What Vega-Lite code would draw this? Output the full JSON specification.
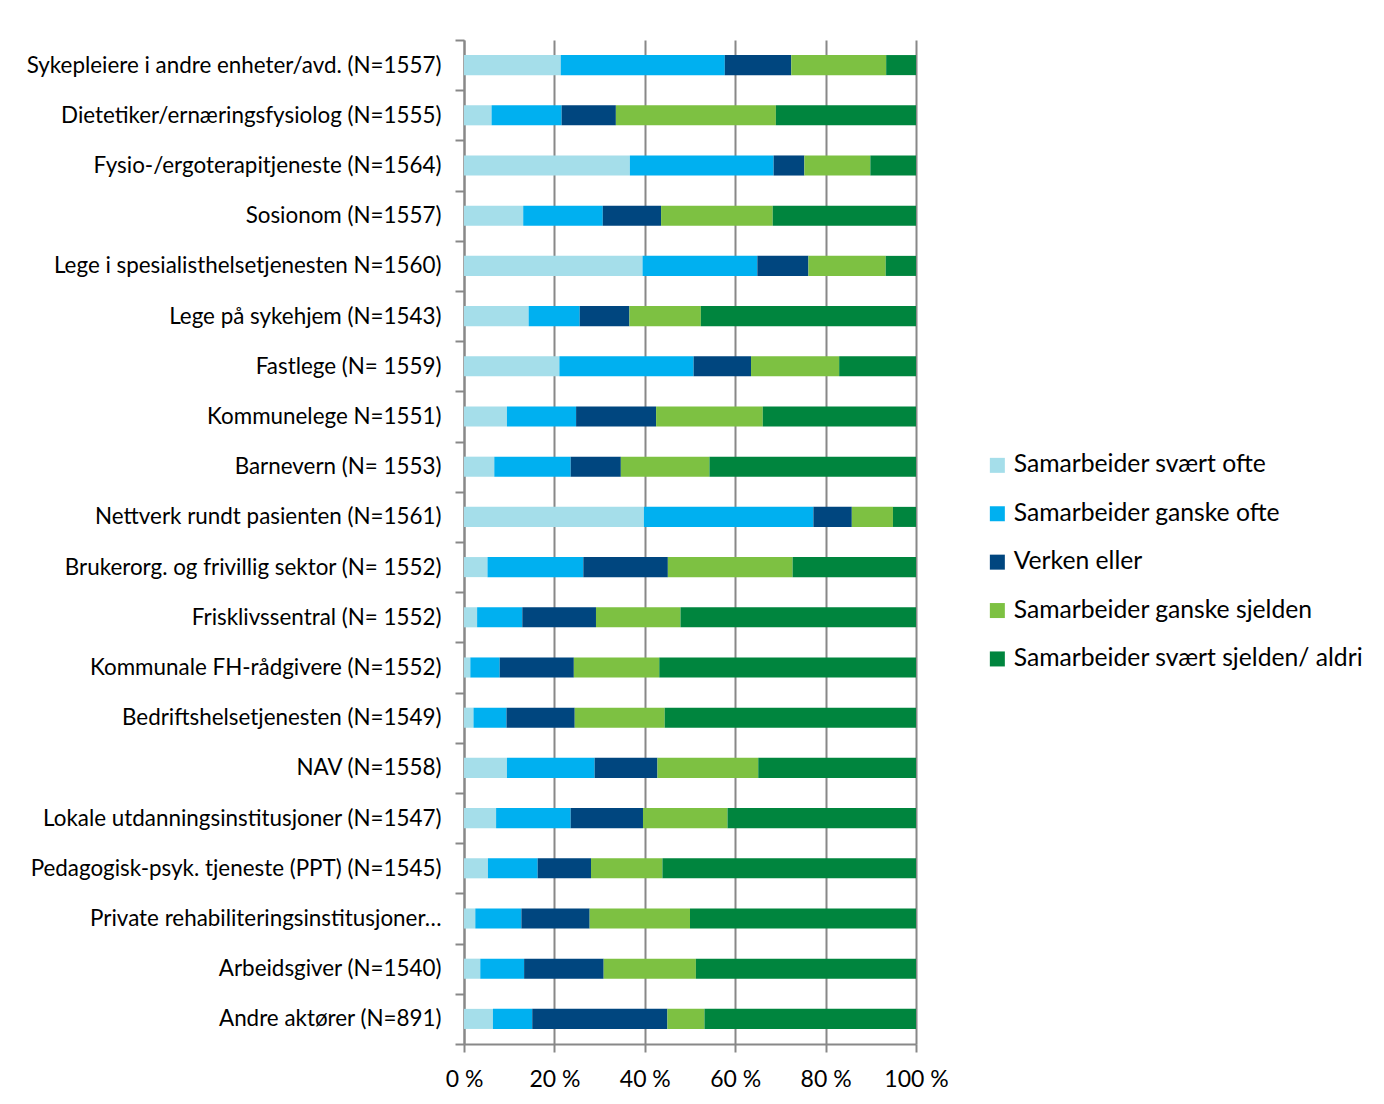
{
  "$schema": "https://vega.github.io/schema/vega-lite/v6.json",
  "width": 452,
  "height": 1004,
  "autosize": {"type": "none"},
  "padding": {"left": 464, "top": 40, "right": 468, "bottom": 60},
  "background": "white",
  "config": {
    "view": {"stroke": null},
    "font": "Lato",
    "axis": {"labelColor": "#000000", "domainColor": "#888888", "tickColor": "#888888", "domainWidth": 2, "tickWidth": 2}
  },
  "data": {
    "values": [
      {"c": "Sykepleiere i andre enheter/avd. (N=1557)", "r": "Samarbeider svært ofte", "k": 1, "p": 21.4},
      {"c": "Sykepleiere i andre enheter/avd. (N=1557)", "r": "Samarbeider ganske ofte", "k": 2, "p": 36.3},
      {"c": "Sykepleiere i andre enheter/avd. (N=1557)", "r": "Verken eller", "k": 3, "p": 14.7},
      {"c": "Sykepleiere i andre enheter/avd. (N=1557)", "r": "Samarbeider ganske sjelden", "k": 4, "p": 21.0},
      {"c": "Sykepleiere i andre enheter/avd. (N=1557)", "r": "Samarbeider svært sjelden/ aldri", "k": 5, "p": 6.6},
      {"c": "Dietetiker/ernæringsfysiolog (N=1555)", "r": "Samarbeider svært ofte", "k": 1, "p": 6.1},
      {"c": "Dietetiker/ernæringsfysiolog (N=1555)", "r": "Samarbeider ganske ofte", "k": 2, "p": 15.5},
      {"c": "Dietetiker/ernæringsfysiolog (N=1555)", "r": "Verken eller", "k": 3, "p": 12.0},
      {"c": "Dietetiker/ernæringsfysiolog (N=1555)", "r": "Samarbeider ganske sjelden", "k": 4, "p": 35.4},
      {"c": "Dietetiker/ernæringsfysiolog (N=1555)", "r": "Samarbeider svært sjelden/ aldri", "k": 5, "p": 31.0},
      {"c": "Fysio-/ergoterapitjeneste (N=1564)", "r": "Samarbeider svært ofte", "k": 1, "p": 36.7},
      {"c": "Fysio-/ergoterapitjeneste (N=1564)", "r": "Samarbeider ganske ofte", "k": 2, "p": 31.8},
      {"c": "Fysio-/ergoterapitjeneste (N=1564)", "r": "Verken eller", "k": 3, "p": 6.8},
      {"c": "Fysio-/ergoterapitjeneste (N=1564)", "r": "Samarbeider ganske sjelden", "k": 4, "p": 14.6},
      {"c": "Fysio-/ergoterapitjeneste (N=1564)", "r": "Samarbeider svært sjelden/ aldri", "k": 5, "p": 10.1},
      {"c": "Sosionom (N=1557)", "r": "Samarbeider svært ofte", "k": 1, "p": 13.1},
      {"c": "Sosionom (N=1557)", "r": "Samarbeider ganske ofte", "k": 2, "p": 17.6},
      {"c": "Sosionom (N=1557)", "r": "Verken eller", "k": 3, "p": 12.9},
      {"c": "Sosionom (N=1557)", "r": "Samarbeider ganske sjelden", "k": 4, "p": 24.7},
      {"c": "Sosionom (N=1557)", "r": "Samarbeider svært sjelden/ aldri", "k": 5, "p": 31.7},
      {"c": "Lege i spesialisthelsetjenesten N=1560)", "r": "Samarbeider svært ofte", "k": 1, "p": 39.5},
      {"c": "Lege i spesialisthelsetjenesten N=1560)", "r": "Samarbeider ganske ofte", "k": 2, "p": 25.4},
      {"c": "Lege i spesialisthelsetjenesten N=1560)", "r": "Verken eller", "k": 3, "p": 11.3},
      {"c": "Lege i spesialisthelsetjenesten N=1560)", "r": "Samarbeider ganske sjelden", "k": 4, "p": 17.1},
      {"c": "Lege i spesialisthelsetjenesten N=1560)", "r": "Samarbeider svært sjelden/ aldri", "k": 5, "p": 6.7},
      {"c": "Lege på sykehjem (N=1543)", "r": "Samarbeider svært ofte", "k": 1, "p": 14.3},
      {"c": "Lege på sykehjem (N=1543)", "r": "Samarbeider ganske ofte", "k": 2, "p": 11.3},
      {"c": "Lege på sykehjem (N=1543)", "r": "Verken eller", "k": 3, "p": 11.0},
      {"c": "Lege på sykehjem (N=1543)", "r": "Samarbeider ganske sjelden", "k": 4, "p": 15.8},
      {"c": "Lege på sykehjem (N=1543)", "r": "Samarbeider svært sjelden/ aldri", "k": 5, "p": 47.6},
      {"c": "Fastlege (N= 1559)", "r": "Samarbeider svært ofte", "k": 1, "p": 21.1},
      {"c": "Fastlege (N= 1559)", "r": "Samarbeider ganske ofte", "k": 2, "p": 29.7},
      {"c": "Fastlege (N= 1559)", "r": "Verken eller", "k": 3, "p": 12.7},
      {"c": "Fastlege (N= 1559)", "r": "Samarbeider ganske sjelden", "k": 4, "p": 19.5},
      {"c": "Fastlege (N= 1559)", "r": "Samarbeider svært sjelden/ aldri", "k": 5, "p": 17.0},
      {"c": "Kommunelege N=1551)", "r": "Samarbeider svært ofte", "k": 1, "p": 9.5},
      {"c": "Kommunelege N=1551)", "r": "Samarbeider ganske ofte", "k": 2, "p": 15.3},
      {"c": "Kommunelege N=1551)", "r": "Verken eller", "k": 3, "p": 17.7},
      {"c": "Kommunelege N=1551)", "r": "Samarbeider ganske sjelden", "k": 4, "p": 23.6},
      {"c": "Kommunelege N=1551)", "r": "Samarbeider svært sjelden/ aldri", "k": 5, "p": 33.9},
      {"c": "Barnevern (N= 1553)", "r": "Samarbeider svært ofte", "k": 1, "p": 6.7},
      {"c": "Barnevern (N= 1553)", "r": "Samarbeider ganske ofte", "k": 2, "p": 16.9},
      {"c": "Barnevern (N= 1553)", "r": "Verken eller", "k": 3, "p": 11.1},
      {"c": "Barnevern (N= 1553)", "r": "Samarbeider ganske sjelden", "k": 4, "p": 19.6},
      {"c": "Barnevern (N= 1553)", "r": "Samarbeider svært sjelden/ aldri", "k": 5, "p": 45.7},
      {"c": "Nettverk rundt pasienten (N=1561)", "r": "Samarbeider svært ofte", "k": 1, "p": 39.8},
      {"c": "Nettverk rundt pasienten (N=1561)", "r": "Samarbeider ganske ofte", "k": 2, "p": 37.5},
      {"c": "Nettverk rundt pasienten (N=1561)", "r": "Verken eller", "k": 3, "p": 8.5},
      {"c": "Nettverk rundt pasienten (N=1561)", "r": "Samarbeider ganske sjelden", "k": 4, "p": 9.1},
      {"c": "Nettverk rundt pasienten (N=1561)", "r": "Samarbeider svært sjelden/ aldri", "k": 5, "p": 5.1},
      {"c": "Brukerorg. og frivillig sektor (N= 1552)", "r": "Samarbeider svært ofte", "k": 1, "p": 5.2},
      {"c": "Brukerorg. og frivillig sektor (N= 1552)", "r": "Samarbeider ganske ofte", "k": 2, "p": 21.2},
      {"c": "Brukerorg. og frivillig sektor (N= 1552)", "r": "Verken eller", "k": 3, "p": 18.7},
      {"c": "Brukerorg. og frivillig sektor (N= 1552)", "r": "Samarbeider ganske sjelden", "k": 4, "p": 27.6},
      {"c": "Brukerorg. og frivillig sektor (N= 1552)", "r": "Samarbeider svært sjelden/ aldri", "k": 5, "p": 27.3},
      {"c": "Frisklivssentral (N= 1552)", "r": "Samarbeider svært ofte", "k": 1, "p": 2.9},
      {"c": "Frisklivssentral (N= 1552)", "r": "Samarbeider ganske ofte", "k": 2, "p": 10.0},
      {"c": "Frisklivssentral (N= 1552)", "r": "Verken eller", "k": 3, "p": 16.3},
      {"c": "Frisklivssentral (N= 1552)", "r": "Samarbeider ganske sjelden", "k": 4, "p": 18.7},
      {"c": "Frisklivssentral (N= 1552)", "r": "Samarbeider svært sjelden/ aldri", "k": 5, "p": 52.1},
      {"c": "Kommunale FH-rådgivere (N=1552)", "r": "Samarbeider svært ofte", "k": 1, "p": 1.4},
      {"c": "Kommunale FH-rådgivere (N=1552)", "r": "Samarbeider ganske ofte", "k": 2, "p": 6.5},
      {"c": "Kommunale FH-rådgivere (N=1552)", "r": "Verken eller", "k": 3, "p": 16.4},
      {"c": "Kommunale FH-rådgivere (N=1552)", "r": "Samarbeider ganske sjelden", "k": 4, "p": 18.9},
      {"c": "Kommunale FH-rådgivere (N=1552)", "r": "Samarbeider svært sjelden/ aldri", "k": 5, "p": 56.8},
      {"c": "Bedriftshelsetjenesten (N=1549)", "r": "Samarbeider svært ofte", "k": 1, "p": 2.1},
      {"c": "Bedriftshelsetjenesten (N=1549)", "r": "Samarbeider ganske ofte", "k": 2, "p": 7.3},
      {"c": "Bedriftshelsetjenesten (N=1549)", "r": "Verken eller", "k": 3, "p": 15.1},
      {"c": "Bedriftshelsetjenesten (N=1549)", "r": "Samarbeider ganske sjelden", "k": 4, "p": 19.9},
      {"c": "Bedriftshelsetjenesten (N=1549)", "r": "Samarbeider svært sjelden/ aldri", "k": 5, "p": 55.6},
      {"c": "NAV (N=1558)", "r": "Samarbeider svært ofte", "k": 1, "p": 9.5},
      {"c": "NAV (N=1558)", "r": "Samarbeider ganske ofte", "k": 2, "p": 19.4},
      {"c": "NAV (N=1558)", "r": "Verken eller", "k": 3, "p": 13.9},
      {"c": "NAV (N=1558)", "r": "Samarbeider ganske sjelden", "k": 4, "p": 22.3},
      {"c": "NAV (N=1558)", "r": "Samarbeider svært sjelden/ aldri", "k": 5, "p": 34.9},
      {"c": "Lokale utdanningsinstitusjoner (N=1547)", "r": "Samarbeider svært ofte", "k": 1, "p": 7.1},
      {"c": "Lokale utdanningsinstitusjoner (N=1547)", "r": "Samarbeider ganske ofte", "k": 2, "p": 16.5},
      {"c": "Lokale utdanningsinstitusjoner (N=1547)", "r": "Verken eller", "k": 3, "p": 16.0},
      {"c": "Lokale utdanningsinstitusjoner (N=1547)", "r": "Samarbeider ganske sjelden", "k": 4, "p": 18.7},
      {"c": "Lokale utdanningsinstitusjoner (N=1547)", "r": "Samarbeider svært sjelden/ aldri", "k": 5, "p": 41.7},
      {"c": "Pedagogisk-psyk. tjeneste (PPT) (N=1545)", "r": "Samarbeider svært ofte", "k": 1, "p": 5.3},
      {"c": "Pedagogisk-psyk. tjeneste (PPT) (N=1545)", "r": "Samarbeider ganske ofte", "k": 2, "p": 11.0},
      {"c": "Pedagogisk-psyk. tjeneste (PPT) (N=1545)", "r": "Verken eller", "k": 3, "p": 11.8},
      {"c": "Pedagogisk-psyk. tjeneste (PPT) (N=1545)", "r": "Samarbeider ganske sjelden", "k": 4, "p": 15.8},
      {"c": "Pedagogisk-psyk. tjeneste (PPT) (N=1545)", "r": "Samarbeider svært sjelden/ aldri", "k": 5, "p": 56.1},
      {"c": "Private rehabiliteringsinstitusjoner…", "r": "Samarbeider svært ofte", "k": 1, "p": 2.5},
      {"c": "Private rehabiliteringsinstitusjoner…", "r": "Samarbeider ganske ofte", "k": 2, "p": 10.2},
      {"c": "Private rehabiliteringsinstitusjoner…", "r": "Verken eller", "k": 3, "p": 15.1},
      {"c": "Private rehabiliteringsinstitusjoner…", "r": "Samarbeider ganske sjelden", "k": 4, "p": 22.2},
      {"c": "Private rehabiliteringsinstitusjoner…", "r": "Samarbeider svært sjelden/ aldri", "k": 5, "p": 50.0},
      {"c": "Arbeidsgiver (N=1540)", "r": "Samarbeider svært ofte", "k": 1, "p": 3.6},
      {"c": "Arbeidsgiver (N=1540)", "r": "Samarbeider ganske ofte", "k": 2, "p": 9.7},
      {"c": "Arbeidsgiver (N=1540)", "r": "Verken eller", "k": 3, "p": 17.6},
      {"c": "Arbeidsgiver (N=1540)", "r": "Samarbeider ganske sjelden", "k": 4, "p": 20.4},
      {"c": "Arbeidsgiver (N=1540)", "r": "Samarbeider svært sjelden/ aldri", "k": 5, "p": 48.7},
      {"c": "Andre aktører (N=891)", "r": "Samarbeider svært ofte", "k": 1, "p": 6.4},
      {"c": "Andre aktører (N=891)", "r": "Samarbeider ganske ofte", "k": 2, "p": 8.7},
      {"c": "Andre aktører (N=891)", "r": "Verken eller", "k": 3, "p": 29.9},
      {"c": "Andre aktører (N=891)", "r": "Samarbeider ganske sjelden", "k": 4, "p": 8.2},
      {"c": "Andre aktører (N=891)", "r": "Samarbeider svært sjelden/ aldri", "k": 5, "p": 46.8}
    ]
  },
  "mark": {"type": "bar", "height": {"band": 0.4}},
  "encoding": {
    "y": {
      "field": "c",
      "type": "nominal",
      "sort": null,
      "scale": {"paddingInner": 0, "paddingOuter": 0},
      "axis": {"title": null, "tickBand": "extent", "tickSize": 9, "labelFontSize": 22.4, "labelPadding": 14, "labelLimit": 600}
    },
    "x": {
      "field": "p",
      "type": "quantitative",
      "stack": "zero",
      "scale": {"domain": [0, 100], "nice": false},
      "axis": {"title": null, "values": [0, 20, 40, 60, 80, 100], "labelExpr": "datum.value + ' %'", "grid": true, "gridColor": "#888888", "gridWidth": 2, "tickSize": 8, "labelFontSize": 23, "labelPadding": 16, "labelFlush": false}
    },
    "color": {
      "field": "r",
      "type": "nominal",
      "scale": {
        "domain": ["Samarbeider svært ofte", "Samarbeider ganske ofte", "Verken eller", "Samarbeider ganske sjelden", "Samarbeider svært sjelden/ aldri"],
        "range": ["#A5DEEA", "#00B0F0", "#00467F", "#7DC142", "#00853E"]
      },
      "legend": {"title": null, "orient": "none", "legendX": 521, "legendY": 413, "symbolType": "square", "symbolSize": 225, "symbolStrokeWidth": 0, "labelFontSize": 24.7, "labelColor": "#000000", "labelOffset": 4, "rowPadding": 22.4, "labelLimit": 600}
    },
    "order": {"field": "k", "type": "quantitative"}
  }
}
